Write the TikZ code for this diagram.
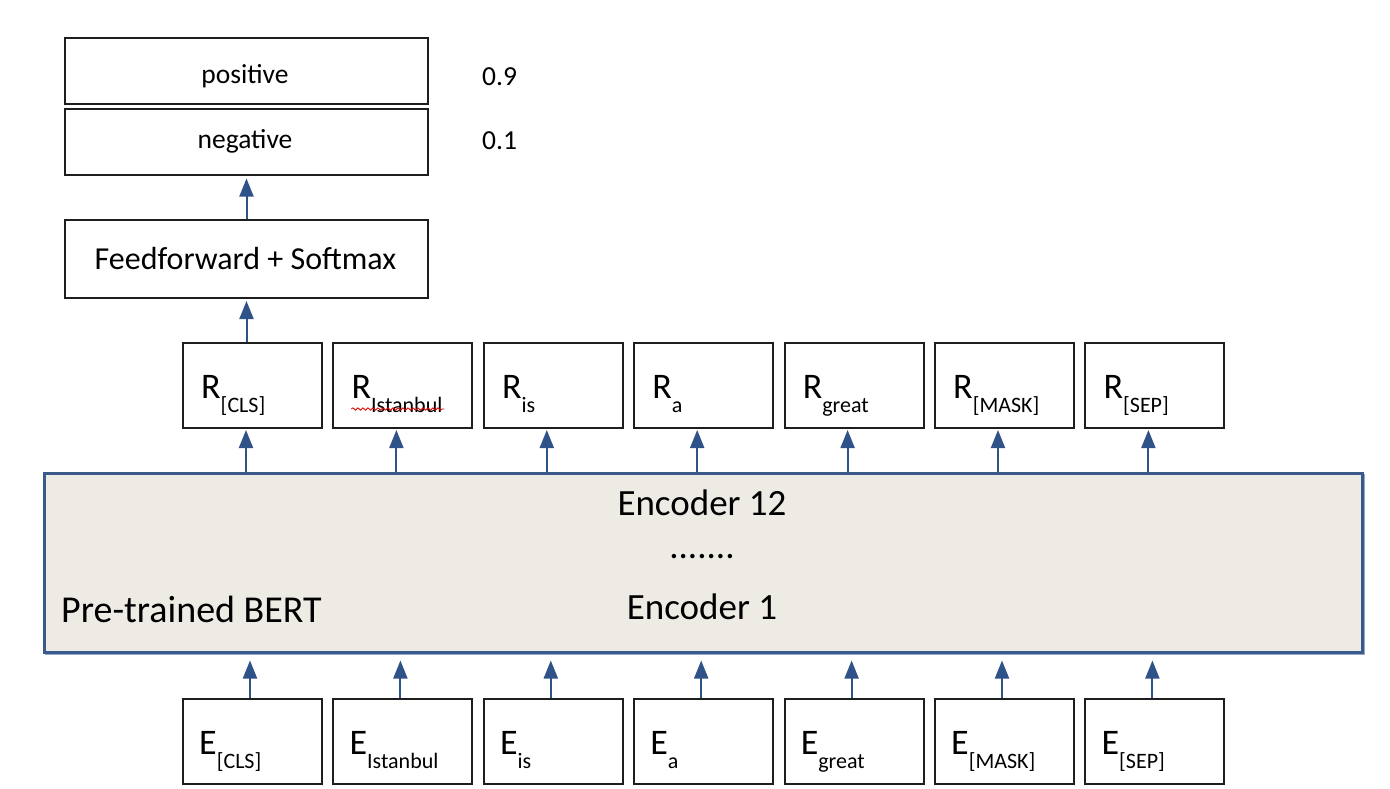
\documentclass[tikz,border=0pt]{standalone}
\usepackage{fontspec}
\setmainfont{Carlito}
\usetikzlibrary{arrows.meta,calc,decorations.pathmorphing}
\definecolor{encfill}{RGB}{237,235,228}
\definecolor{encline}{RGB}{58,90,140}
\definecolor{encshadow}{RGB}{150,168,196}
\definecolor{arr}{RGB}{47,82,136}
\definecolor{boxline}{RGB}{30,30,30}
\newcommand{\toklab}[2]{\fontsize{36}{40}\selectfont #1\raisebox{-14pt}{\fontsize{22}{24}\selectfont #2}}
\begin{document}
\begin{tikzpicture}[x=1pt,y=-1pt,
  box/.style={draw=boxline, line width=2pt, fill=white, minimum width=363pt, anchor=north west, inner sep=0pt},
  tokbox/.style={draw=boxline, line width=2pt, fill=white, minimum width=139pt, minimum height=85pt, anchor=north west, inner sep=0pt},
  arrowline/.style={draw=arr, line width=2pt, -{Triangle[length=18pt,width=14pt]}},
  lab/.style={anchor=base, inner sep=0pt},
  labw/.style={anchor=base west, inner sep=0pt},
  smallfont/.style={font=\fontsize{27.5}{32}\selectfont},
  bigfont/.style={font=\fontsize{37}{42}\selectfont}]
\useasboundingbox (0,0) rectangle (1390,788);

% output boxes
\node[box, minimum height=66pt] (pos) at (64,37) {};
\node[box, minimum height=66pt] (neg) at (64,107.5) {};
\node[lab, smallfont] (postxt) at (245,83) {positive};
\node[lab, smallfont] (negtxt) at (245,148) {negative};
\node[labw, smallfont] (pval) at (482,85) {0.9};
\node[labw, smallfont] (nval) at (482,149) {0.1};

% feedforward
\node[box, minimum height=78pt] (ff) at (64,219) {};
\node[lab, font=\fontsize{32}{38}\selectfont] (fftxt) at (245.5,269) {Feedforward + Softmax};

% encoder
\draw[encshadow, line width=2pt] (46,475) rectangle (1363.5,653.5);
\node[draw=encline, fill=encfill, line width=2.5pt, minimum width=1318pt, minimum height=179pt, anchor=north west, inner sep=0pt] (enc) at (43,472) {};
\node[lab, bigfont] (enc12) at (702,515) {Encoder 12};
\node[lab, bigfont] (dots) at (702,558) {.......};
\node[lab, bigfont] (enc1) at (702,619) {Encoder 1};
\node[labw, font=\fontsize{38}{44}\selectfont] (bert) at (61,622) {Pre-trained BERT};

% tokens
\foreach \i/\n/\s in {0/cls/[CLS],1/ist/Istanbul,2/is/is,3/a/a,4/great/great,5/mask/[MASK],6/sep/[SEP]} {
  \pgfmathsetmacro\xx{182+150.4*\i}
  \node[tokbox] (r\n) at (\xx,342) {};
  \node[labw] (rt\n) at (\xx+19,398) {\toklab{R}{\s}};
  \node[tokbox] (e\n) at (\xx,698) {};
  \node[labw] (et\n) at (\xx+17,754) {\toklab{E}{\s}};
  \coordinate (ra\n) at (\xx+64,427);
  \coordinate (ea\n) at (\xx+68,698);
  \draw[arrowline, shorten >=3pt] (enc.north -| ra\n) -- (ra\n);
  \draw[arrowline, shorten >=7pt] (ea\n) -- (ea\n |- enc.south);
}

% spell-check squiggle
\draw[red!85!black, line width=0.8pt, decorate, decoration={snake, amplitude=1.2pt, segment length=5pt}]
  ($(rist.south west)+(19,-20)$) -- ($(rist.south west)+(112,-20)$);

% classifier arrows
\draw[arrowline, shorten >=2pt] (ff.south |- rcls.north) -- (ff.south);
\draw[arrowline, shorten >=3pt] (ff.north) -- (neg.south);
\end{tikzpicture}
\end{document}
